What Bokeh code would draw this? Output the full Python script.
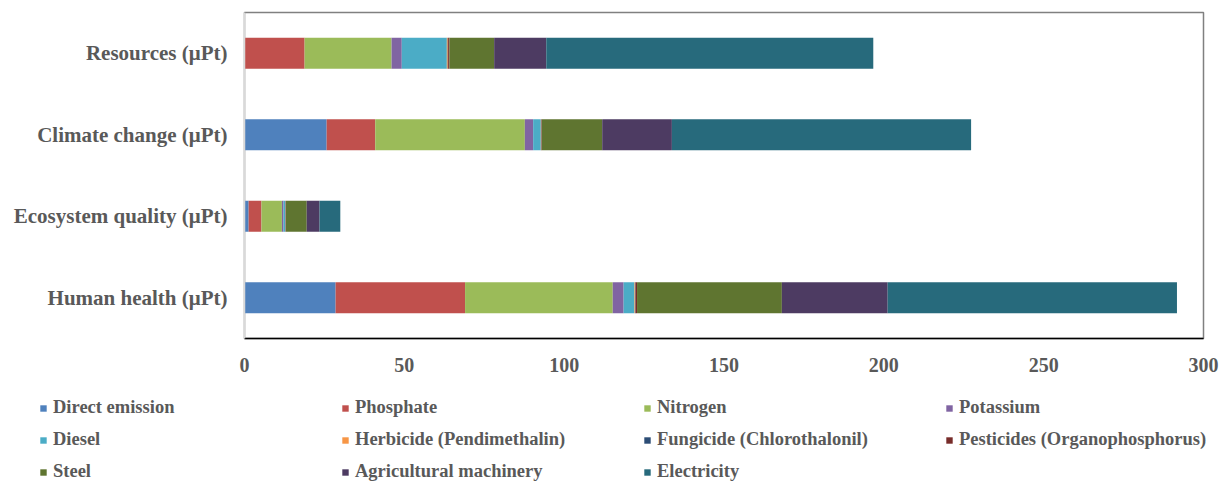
from bokeh.plotting import figure
from bokeh.models import ColumnDataSource, Range1d, FactorRange, Legend, LegendItem, FixedTicker
from bokeh.layouts import column
from bokeh.embed import file_html
from bokeh.resources import INLINE

# Categories, top to bottom
categories = ["Resources (μPt)", "Climate change (μPt)", "Ecosystem quality (μPt)", "Human health (μPt)"]

# Contributions per category (same order as categories)
direct_emission = [0.0, 25.7, 1.3, 28.5]
phosphate = [18.8, 15.2, 4.0, 40.5]
nitrogen = [27.2, 46.8, 6.4, 46.2]
potassium = [3.2, 2.6, 0.5, 3.4]
diesel = [14.1, 2.4, 0.6, 3.4]
herbicide = [0.3, 0.1, 0.05, 0.2]
fungicide = [0.1, 0.05, 0.02, 0.1]
pesticides = [0.4, 0.15, 0.1, 0.5]
steel = [14.0, 18.9, 6.5, 45.3]
agri_machinery = [16.3, 21.8, 4.0, 33.1]
electricity = [102.3, 93.6, 6.5, 90.5]

series_names = ["Direct emission", "Phosphate", "Nitrogen", "Potassium", "Diesel",
                "Herbicide (Pendimethalin)", "Fungicide (Chlorothalonil)",
                "Pesticides (Organophosphorus)", "Steel", "Agricultural machinery", "Electricity"]
series_values = [direct_emission, phosphate, nitrogen, potassium, diesel, herbicide,
                 fungicide, pesticides, steel, agri_machinery, electricity]
colors = ["#4F81BD", "#C0504D", "#9BBB59", "#8064A2", "#4BACC6", "#F79646",
          "#2C4D75", "#772C2A", "#5F7530", "#4D3B62", "#276A7C"]
x_ticks = [0, 50, 100, 150, 200, 250, 300]

keys = ["s%d" % i for i in range(len(series_names))]
data = {"cat": categories}
for k, v in zip(keys, series_values):
    data[k] = v
source = ColumnDataSource(data)

FONT = "Liberation Serif"
GRAY = "#595959"

p = figure(width=1220, height=385, output_backend="svg", toolbar_location=None,
           y_range=FactorRange(factors=list(reversed(categories))),
           x_range=Range1d(0, 300), frame_align=False,
           min_border_left=244, min_border_right=17, min_border_top=12, min_border_bottom=47)

renderers = p.hbar_stack(keys, y="cat", height=0.38, color=colors, source=source, line_color=None)

p.xgrid.visible = False
p.ygrid.visible = False
p.outline_line_color = "#808080"
p.outline_line_width = 1.5

xa = p.xaxis[0]
xa.ticker = FixedTicker(ticks=x_ticks)
xa.major_tick_line_color = None
xa.minor_tick_line_color = None
xa.major_tick_out = 0
xa.major_tick_in = 0
xa.axis_line_color = "#000000"
xa.axis_line_width = 1.5
xa.major_label_text_font = FONT
xa.major_label_text_font_style = "bold"
xa.major_label_text_font_size = "20px"
xa.major_label_text_color = GRAY
xa.major_label_standoff = 19

ya = p.yaxis[0]
ya.major_tick_line_color = None
ya.minor_tick_line_color = None
ya.major_tick_out = 0
ya.major_tick_in = 0
ya.axis_line_color = "#D9D9D9"
ya.axis_line_width = 1.5
ya.major_label_text_font = FONT
ya.major_label_text_font_style = "bold"
ya.major_label_text_font_size = "21px"
ya.major_label_text_color = GRAY
ya.major_label_standoff = 17

# Legend panel below the chart (its own frame spans the full width)
lg = figure(width=1220, height=102, output_backend="svg", toolbar_location=None,
            x_axis_location=None, y_axis_location=None, frame_align=False,
            y_range=FactorRange(factors=list(reversed(categories))),
            x_range=Range1d(0, 300),
            min_border_left=0, min_border_right=0, min_border_top=0, min_border_bottom=0)
lg.grid.visible = False
lg.outline_line_color = None

legend_renderers = lg.hbar_stack(keys, y="cat", height=0.38, color=colors, source=source, line_color=None)
for r in legend_renderers:
    r.visible = False
items = [LegendItem(label=n, renderers=[r]) for n, r in zip(series_names, legend_renderers)]
legend = Legend(items=items, orientation="horizontal", ncols=4,
                location=(39, 5),
                glyph_width=8, glyph_height=8, label_standoff=6,
                label_width=277, label_height=20, spacing=11,
                padding=0, margin=0,
                border_line_color=None, background_fill_alpha=0,
                label_text_font=FONT, label_text_font_style="bold",
                label_text_font_size="18.5px", label_text_color=GRAY)
lg.add_layout(legend, "center")

layout = column(p, lg, spacing=0)
open("out.html", "w").write(file_html(layout, INLINE))
